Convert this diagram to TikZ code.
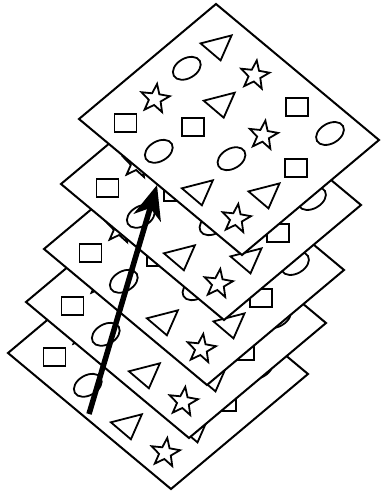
\documentclass[tikz,border=0pt]{standalone}
\usepackage{tikz}
\usetikzlibrary{arrows.meta,shapes.geometric}

\begin{document}
\begin{tikzpicture}[
    x=1pt, y=-1pt,
    sheet/.style={draw, fill=white, line width=2pt, line join=miter},
    glyph/.style={draw, line width=1.8pt, inner sep=0pt},
    box/.style={glyph, rectangle, minimum width=22pt, minimum height=18pt},
    oval/.style={glyph, ellipse, minimum width=30pt, minimum height=20pt, rotate=30},
    starry/.style={glyph, star, star points=5, star point ratio=2.4, minimum size=30pt, rotate=-8},
    wedge/.style={line width=1.8pt, line join=miter},
    pointer/.style={-{Stealth[length=34pt,width=28pt,inset=10pt]}, line width=5.5pt}
]
\useasboundingbox (0,0) rectangle (380,492);

\foreach \dx/\dy [count=\k] in {-71/234,-53/183,-35/130,-18/65,0/0} {
  \begin{scope}[shift={(\dx,\dy)}]
    \draw[sheet] (216,4) -- (379,140) -- (242,255) -- (79,119) -- cycle;
    \node[box] (sq-\k-1) at (125.5,123.3) {};
    \node[box] (sq-\k-2) at (193.2,126.7) {};
    \node[box] (sq-\k-3) at (297.2,107.2) {};
    \node[box] (sq-\k-4) at (295.8,168.3) {};
    \node[oval] (ov-\k-1) at (186.8,68.3) {};
    \node[oval] (ov-\k-2) at (330,133.5) {};
    \node[oval] (ov-\k-3) at (158.8,151.3) {};
    \node[oval] (ov-\k-4) at (231.5,158.7) {};
    \node[starry] (st-\k-1) at (254.7,75.3) {};
    \node[starry] (st-\k-2) at (155,98.8) {};
    \node[starry] (st-\k-3) at (263.3,135.5) {};
    \node[starry] (st-\k-4) at (236.2,218.8) {};
    \draw[wedge] (217.6,46.4) ++(-17,-3) -- ++(31,-8) -- ++(-11,25) -- cycle;
    \draw[wedge] (220.7,103.7) ++(-17,-3) -- ++(31,-8) -- ++(-11,25) -- cycle;
    \draw[wedge] (198.9,191.3) ++(-17,-3) -- ++(31,-8) -- ++(-11,25) -- cycle;
    \draw[wedge] (265.5,194.4) ++(-17,-3) -- ++(31,-8) -- ++(-11,25) -- cycle;
  \end{scope}
}

\coordinate (tail) at (89,414);
\coordinate (head) at (157,185);
\draw[pointer] (tail) -- (head);

\end{tikzpicture}
\end{document}
